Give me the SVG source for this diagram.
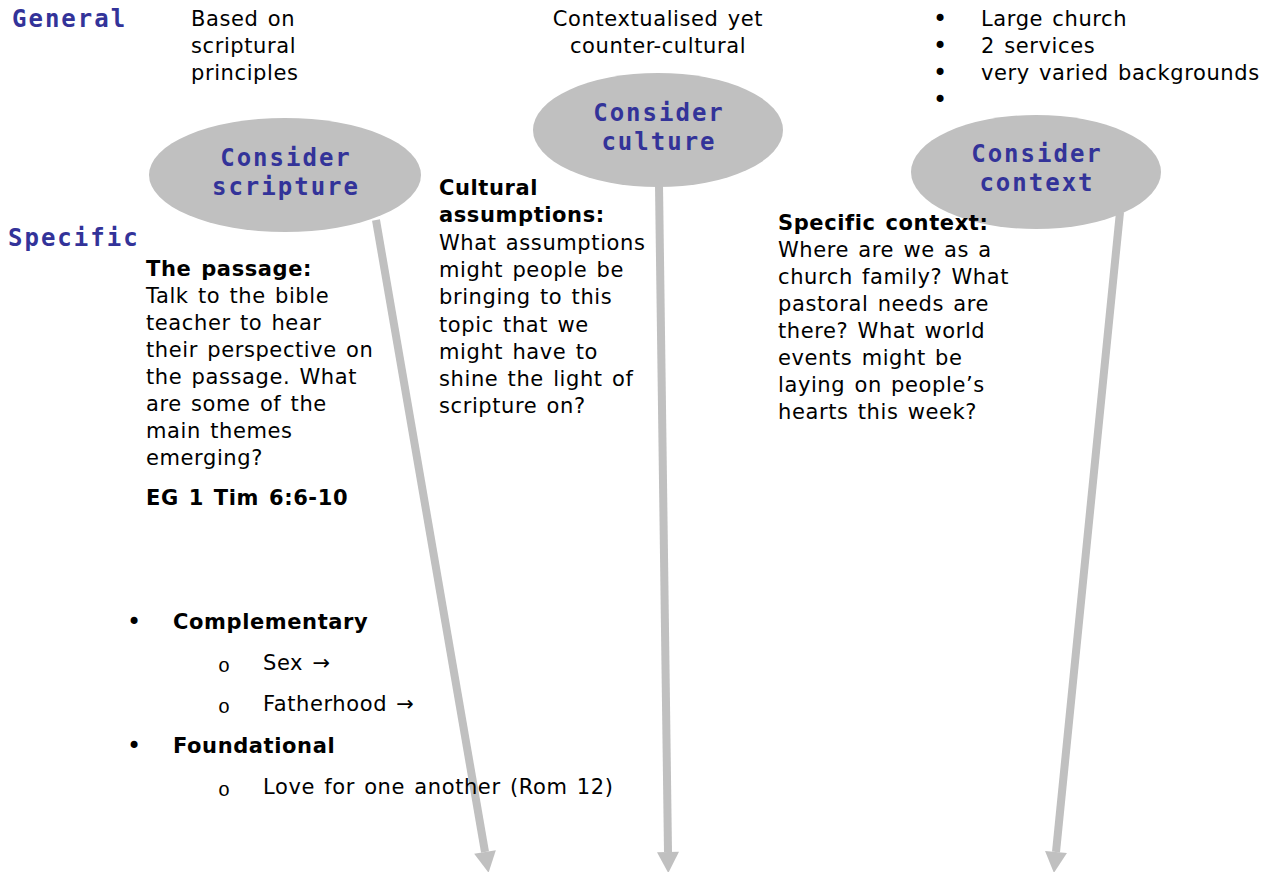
<svg xmlns="http://www.w3.org/2000/svg" width="1271" height="872" viewBox="0 0 1271 872">
<style>
.bg{fill:#ffffff}
.ell{fill:#c0c0c0}
.mono{font-family:"DejaVu Sans Mono","Liberation Mono",monospace;font-weight:bold;font-size:24px;fill:#333399;letter-spacing:2px}
.t{font-family:"DejaVu Sans","Liberation Sans",sans-serif;font-size:21px;fill:#000;letter-spacing:0.6px;word-spacing:2px}
.b{font-weight:bold}
.c{text-anchor:middle}
.bu{font-family:"DejaVu Sans","Liberation Sans",sans-serif;font-size:24px;fill:#000}
.o{font-family:"Liberation Mono",monospace;font-size:20px;fill:#000}
.conn{stroke:#c0c0c0;stroke-width:8;fill:none;marker-end:url(#ah)}
</style>
<defs>
<marker id="ah" markerUnits="userSpaceOnUse" markerWidth="22" markerHeight="24" refX="0" refY="11" orient="auto" overflow="visible">
<path d="M0,0 L21,11 L0,22 Z" fill="#c0c0c0"/>
</marker>
</defs>
<rect class="bg" x="0" y="0" width="1271" height="872"/>
<g id="labels">
<text class="mono" x="12" y="27">General</text>
<text class="mono" x="8" y="246">Specific</text>
</g>
<g id="connectors">
<line class="conn" x1="376" y1="220" x2="485" y2="852"/>
<line class="conn" x1="659" y1="185" x2="668" y2="852"/>
<line class="conn" x1="1120" y1="212" x2="1056" y2="852"/>
</g>
<g id="node-scripture">
<ellipse class="ell" cx="285" cy="175" rx="136" ry="57"/>
<text class="mono c" x="286" y="166">Consider</text>
<text class="mono c" x="286" y="195">scripture</text>
</g>
<g id="node-culture">
<ellipse class="ell" cx="658" cy="130" rx="125" ry="57"/>
<text class="mono c" x="659" y="121">Consider</text>
<text class="mono c" x="659" y="150">culture</text>
</g>
<g id="node-context">
<ellipse class="ell" cx="1036" cy="172" rx="125" ry="57"/>
<text class="mono c" x="1037" y="162">Consider</text>
<text class="mono c" x="1037" y="191">context</text>
</g>
<g id="general-scripture">
<text class="t" x="191" y="26">Based on</text>
<text class="t" x="191" y="53">scriptural</text>
<text class="t" x="191" y="80">principles</text>
</g>
<g id="general-culture">
<text class="t c" x="658" y="26">Contextualised yet</text>
<text class="t c" x="658" y="53">counter-cultural</text>
</g>
<g id="general-context">
<text class="bu" x="933" y="27">•</text><text class="t" x="981" y="26">Large church</text>
<text class="bu" x="933" y="54">•</text><text class="t" x="981" y="53">2 services</text>
<text class="bu" x="933" y="81">•</text><text class="t" x="981" y="80">very varied backgrounds</text>
<text class="bu" x="933" y="108">•</text>
</g>
<g id="specific-scripture">
<text class="t b" x="146" y="276">The passage:</text>
<text class="t" x="146" y="303">Talk to the bible</text>
<text class="t" x="146" y="330">teacher to hear</text>
<text class="t" x="146" y="357">their perspective on</text>
<text class="t" x="146" y="384">the passage. What</text>
<text class="t" x="146" y="411">are some of the</text>
<text class="t" x="146" y="438">main themes</text>
<text class="t" x="146" y="465">emerging?</text>
<text class="t b" x="146" y="505">EG 1 Tim 6:6-10</text>
</g>
<g id="specific-culture">
<text class="t b" x="439" y="195">Cultural</text>
<text class="t b" x="439" y="222">assumptions:</text>
<text class="t" x="439" y="250">What assumptions</text>
<text class="t" x="439" y="277">might people be</text>
<text class="t" x="439" y="304">bringing to this</text>
<text class="t" x="439" y="332">topic that we</text>
<text class="t" x="439" y="359">might have to</text>
<text class="t" x="439" y="386">shine the light of</text>
<text class="t" x="439" y="413">scripture on?</text>
</g>
<g id="specific-context">
<text class="t b" x="778" y="230">Specific context:</text>
<text class="t" x="778" y="257">Where are we as a</text>
<text class="t" x="778" y="284">church family? What</text>
<text class="t" x="778" y="311">pastoral needs are</text>
<text class="t" x="778" y="338">there? What world</text>
<text class="t" x="778" y="365">events might be</text>
<text class="t" x="778" y="392">laying on people’s</text>
<text class="t" x="778" y="419">hearts this week?</text>
</g>
<g id="themes-list">
<text class="bu" x="127" y="630">•</text><text class="t b" x="173" y="629">Complementary</text>
<text class="o" x="218" y="672">o</text><text class="t" x="263" y="670">Sex →</text>
<text class="o" x="218" y="713">o</text><text class="t" x="263" y="711">Fatherhood →</text>
<text class="bu" x="127" y="754">•</text><text class="t b" x="173" y="753">Foundational</text>
<text class="o" x="218" y="796">o</text><text class="t" x="263" y="794">Love for one another (Rom 12)</text>
</g>
</svg>
